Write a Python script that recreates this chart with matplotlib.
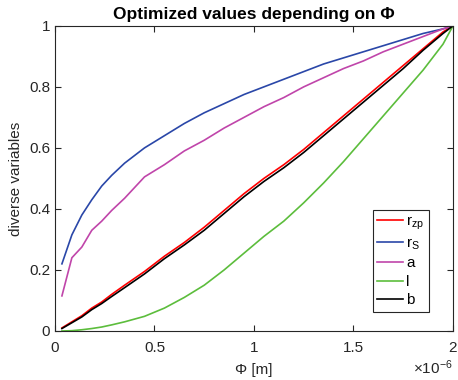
import numpy as np
import matplotlib.pyplot as plt
from matplotlib.ticker import FuncFormatter

plt.rcParams['font.family'] = ['Liberation Sans', 'DejaVu Sans']
plt.rcParams['mathtext.fontset'] = 'custom'
plt.rcParams['mathtext.rm'] = 'Liberation Sans'
plt.rcParams['mathtext.it'] = 'Liberation Sans'

# Phi in micrometres (scaled to metres when plotted)
phi_um = [0.035, 0.085, 0.135, 0.185, 0.235, 0.285, 0.35, 0.45, 0.55, 0.65, 0.75, 0.85,
          0.95, 1.05, 1.15, 1.25, 1.35, 1.45, 1.55, 1.65, 1.75, 1.85, 1.95, 2.0]

r_zp = [0.01, 0.03, 0.05, 0.075, 0.095, 0.12, 0.15, 0.195, 0.245, 0.29, 0.34, 0.395,
        0.45, 0.50, 0.545, 0.595, 0.65, 0.705, 0.76, 0.815, 0.87, 0.925, 0.98, 1.0]
r_s = [0.22, 0.315, 0.38, 0.43, 0.475, 0.51, 0.55, 0.60, 0.64, 0.68, 0.715, 0.745,
       0.775, 0.80, 0.825, 0.85, 0.875, 0.895, 0.915, 0.935, 0.955, 0.975, 0.99, 1.0]
a = [0.115, 0.24, 0.275, 0.33, 0.36, 0.395, 0.435, 0.505, 0.545, 0.59, 0.625, 0.665,
     0.70, 0.735, 0.765, 0.80, 0.83, 0.86, 0.885, 0.915, 0.94, 0.965, 0.99, 1.0]
l = [0.0, 0.001, 0.004, 0.008, 0.013, 0.02, 0.03, 0.048, 0.075, 0.11, 0.15, 0.20,
     0.255, 0.31, 0.36, 0.42, 0.485, 0.555, 0.63, 0.705, 0.78, 0.855, 0.94, 1.0]
b = [0.008, 0.027, 0.046, 0.07, 0.09, 0.113, 0.142, 0.187, 0.237, 0.282, 0.33, 0.385,
     0.44, 0.49, 0.535, 0.585, 0.64, 0.695, 0.75, 0.805, 0.86, 0.92, 0.975, 1.0]

phi = np.array(phi_um) * 1e-6

fig = plt.figure(figsize=(4.58, 3.80), dpi=100)
ax = fig.add_axes([0.120, 0.129, 0.869, 0.803])

ax.plot(phi, r_zp, color='#ff0000', lw=1.2, label=r'r$_{\rm zp}$')
ax.plot(phi, r_s, color='#2a47a8', lw=1.2, label=r'r$_{\rm S}$')
ax.plot(phi, a, color='#c045aa', lw=1.2, label='a')
ax.plot(phi, l, color='#5cbd3c', lw=1.2, label='l')
ax.plot(phi, b, color='black', lw=1.2, label='b')

ax.set_xlim(0, 2e-6)
ax.set_ylim(0, 1)
ax.set_xticks([0, 0.5e-6, 1e-6, 1.5e-6, 2e-6])
ax.set_yticks([0, 0.2, 0.4, 0.6, 0.8, 1])
ax.xaxis.set_major_formatter(FuncFormatter(lambda v, p: '%g' % round(v * 1e6, 6)))
ax.yaxis.set_major_formatter(FuncFormatter(lambda v, p: '%g' % round(v, 6)))

grey = '#262626'
for s in ax.spines.values():
    s.set_color(grey)
    s.set_linewidth(0.8)
ax.tick_params(direction='in', top=True, right=True, length=4, width=0.8,
               colors=grey, labelsize=11)
ax.tick_params(axis='x', pad=7)

ax.set_xlabel('Φ [m]', fontsize=11, color=grey, labelpad=6)
ax.set_ylabel('diverse variables', fontsize=11, color=grey)
ax.set_title('Optimized values depending on Φ', fontsize=12.5, fontweight='bold', pad=5)
ax.text(1.0, -0.09, r'$\times$10$^{-6}$', transform=ax.transAxes, ha='right', va='top',
        fontsize=11, color=grey)

leg = ax.legend(loc='lower right', bbox_to_anchor=(0.94, 0.062), fontsize=11,
                handlelength=1.7, handletextpad=0.2, borderpad=0.3, borderaxespad=0,
                labelspacing=0.3, fancybox=False, framealpha=1)
leg.get_frame().set_edgecolor(grey)
leg.get_frame().set_linewidth(0.8)

fig.savefig('out.png', dpi=100)
